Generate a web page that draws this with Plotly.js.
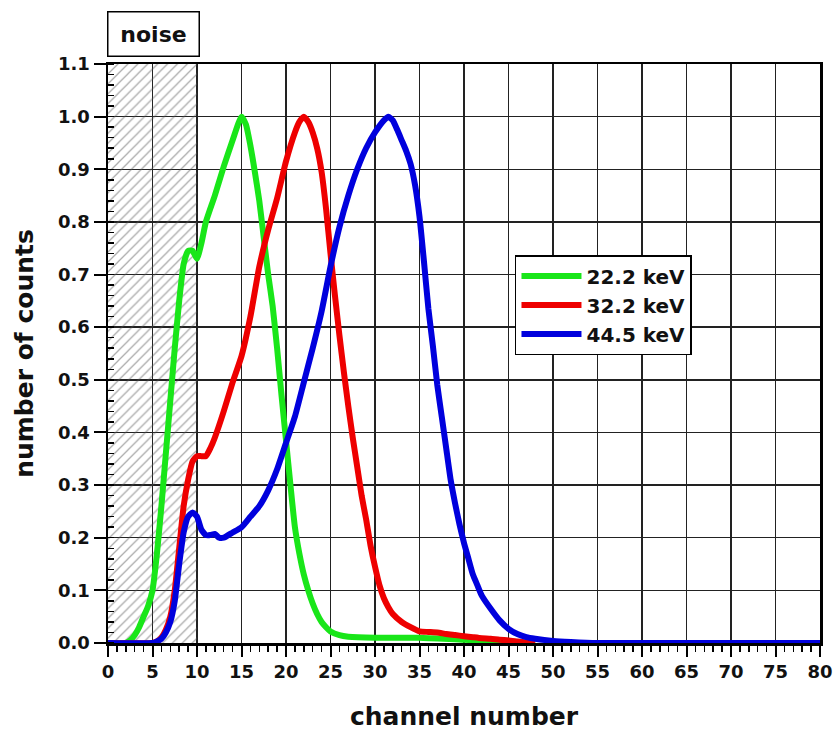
<!DOCTYPE html>
<html>
<head>
<meta charset="utf-8">
<script src="https://cdn.plot.ly/plotly-3.0.1.min.js"></script>
<style>html,body{margin:0;padding:0;background:#fff;}#chart{width:836px;height:731px;}</style>
</head>
<body>
<div id="chart"></div>
<script>
// ---- data ----
const seriesNames = ["22.2 keV", "32.2 keV", "44.5 keV"];

const greenX = [0, 2, 2.5, 3, 3.5, 4, 4.5, 5, 5.5, 6, 6.5, 7, 7.5, 8, 8.5, 9, 9.5, 10, 10.5, 11, 12, 13, 14, 15, 15.5, 16, 16.5, 17, 17.5, 18, 18.5, 19, 19.5, 20, 20.5, 21, 21.5, 22, 22.5, 23, 23.5, 24, 24.5, 25, 26, 27, 30, 35, 40, 45, 48];
const greenY = [0, 0, 0.005, 0.015, 0.03, 0.05, 0.07, 0.1, 0.17, 0.26, 0.36, 0.46, 0.56, 0.65, 0.72, 0.745, 0.745, 0.73, 0.76, 0.8, 0.85, 0.905, 0.955, 1.0, 0.985, 0.945, 0.895, 0.84, 0.77, 0.7, 0.64, 0.56, 0.47, 0.385, 0.3, 0.22, 0.17, 0.13, 0.1, 0.075, 0.055, 0.04, 0.03, 0.022, 0.015, 0.012, 0.01, 0.01, 0.006, 0.003, 0];

const redX = [0, 5, 5.5, 6, 6.5, 7, 7.5, 8, 8.5, 9, 9.5, 10, 10.5, 11, 11.5, 12, 13, 14, 15, 16, 17, 18, 19, 20, 21, 21.5, 22, 22.5, 23, 23.5, 24, 24.5, 25, 25.5, 26, 26.5, 27, 27.5, 28, 28.5, 29, 29.5, 30, 30.5, 31, 31.5, 32, 33, 34, 35, 36, 37, 38, 39, 40, 41, 42, 43, 44, 45, 46, 47, 48];
const redY = [0, 0, 0.003, 0.01, 0.025, 0.05, 0.1, 0.18, 0.26, 0.31, 0.345, 0.355, 0.355, 0.355, 0.37, 0.39, 0.44, 0.495, 0.545, 0.62, 0.715, 0.785, 0.845, 0.915, 0.97, 0.99, 1.0, 0.99, 0.97, 0.94, 0.895, 0.825, 0.74, 0.66, 0.585, 0.515, 0.45, 0.39, 0.335, 0.28, 0.235, 0.185, 0.145, 0.11, 0.085, 0.068, 0.055, 0.04, 0.03, 0.022, 0.021, 0.02, 0.017, 0.015, 0.013, 0.011, 0.009, 0.008, 0.006, 0.005, 0.003, 0.001, 0];

const blueX = [0, 5, 5.5, 6, 6.5, 7, 7.5, 8, 8.5, 9, 9.5, 10, 10.5, 11, 11.5, 12, 12.5, 13, 14, 15, 16, 17, 18, 19, 20, 21, 22, 23, 24, 25, 26, 27, 28, 29, 30, 31, 31.5, 32, 32.5, 33, 33.5, 34, 34.5, 35, 35.5, 36, 36.5, 37, 37.5, 38, 38.5, 39, 39.5, 40, 40.5, 41, 41.5, 42, 43, 44, 45, 46, 47, 48, 50, 52, 55, 80];
const blueY = [0, 0, 0.003, 0.008, 0.02, 0.04, 0.08, 0.15, 0.21, 0.24, 0.248, 0.24, 0.215, 0.205, 0.205, 0.207, 0.2, 0.2, 0.21, 0.22, 0.24, 0.26, 0.29, 0.33, 0.38, 0.43, 0.495, 0.56, 0.63, 0.715, 0.79, 0.85, 0.9, 0.94, 0.97, 0.993, 1.0, 0.993, 0.975, 0.955, 0.935, 0.91, 0.87, 0.81, 0.725, 0.635, 0.565, 0.49, 0.43, 0.37, 0.31, 0.265, 0.225, 0.19, 0.16, 0.13, 0.11, 0.09, 0.065, 0.043, 0.027, 0.017, 0.011, 0.008, 0.004, 0.002, 0, 0];

const noiseRange = [0, 10];
const noiseLabel = "noise";
const xTitle = "channel number";
const yTitle = "number of counts";

// ---- chart ----
const FONT = "DejaVu Sans, Verdana, sans-serif";
const lineW = 6;

const traces = [
  {
    type: "bar",
    x: [(noiseRange[0] + noiseRange[1]) / 2],
    y: [1.1],
    width: [noiseRange[1] - noiseRange[0]],
    marker: {
      color: "rgba(0,0,0,0)",
      line: { width: 0 },
      pattern: { shape: "/", fgcolor: "#555", bgcolor: "rgba(0,0,0,0)", size: 7, solidity: 0.18, fillmode: "overlay" }
    },
    showlegend: false,
    hoverinfo: "skip"
  },
  { type: "scatter", mode: "lines", name: seriesNames[0], x: greenX, y: greenY, line: { color: "#19e619", width: lineW, shape: "spline", smoothing: 0.5 } },
  { type: "scatter", mode: "lines", name: seriesNames[1], x: redX, y: redY, line: { color: "#ee0000", width: lineW, shape: "spline", smoothing: 0.5 } },
  { type: "scatter", mode: "lines", name: seriesNames[2], x: blueX, y: blueY, line: { color: "#0000dd", width: lineW, shape: "spline", smoothing: 0.5 } }
];

const layout = {
  width: 836,
  height: 731,
  margin: { l: 108, r: 16, t: 64, b: 88 },
  paper_bgcolor: "#fff",
  plot_bgcolor: "#fff",
  font: { family: FONT, color: "#111", weight: "bold" },
  showlegend: true,
  bargap: 0,
  xaxis: {
    range: [0, 80],
    dtick: 5,
    tick0: 0,
    showgrid: true,
    gridcolor: "#222",
    gridwidth: 1.5,
    zeroline: false,
    showline: true,
    linecolor: "#000",
    linewidth: 2.5,
    mirror: true,
    ticks: "outside",
    ticklen: 11,
    tickwidth: 2,
    tickcolor: "#000",
    tickfont: { family: FONT, size: 18, color: "#111", weight: "bold" },
    minor: { dtick: 1, ticks: "outside", ticklen: 6, tickwidth: 1.5, tickcolor: "#000", showgrid: false },
    title: { text: xTitle, font: { family: FONT, size: 25, color: "#111", weight: "bold" }, standoff: 28 },
    fixedrange: true
  },
  yaxis: {
    range: [0, 1.1],
    dtick: 0.1,
    tick0: 0,
    tickformat: ".1f",
    showgrid: true,
    gridcolor: "#222",
    gridwidth: 1.5,
    zeroline: false,
    showline: true,
    linecolor: "#000",
    linewidth: 2.5,
    mirror: true,
    ticks: "outside",
    ticklen: 12,
    tickwidth: 2,
    tickcolor: "#000",
    tickfont: { family: FONT, size: 18, color: "#111", weight: "bold" },
    minor: { dtick: 0.02, ticks: "inside", ticklen: 6, tickwidth: 1.5, tickcolor: "#000", showgrid: false },
    title: { text: yTitle, font: { family: FONT, size: 25, color: "#111", weight: "bold" }, standoff: 18 },
    fixedrange: true
  },
  legend: {
    x: 0.5716,
    y: 0.670,
    xanchor: "left",
    yanchor: "top",
    bgcolor: "#fff",
    bordercolor: "#000",
    borderwidth: 1.5,
    font: { family: FONT, size: 20, color: "#111", weight: "bold" },
    itemwidth: 60,
    tracegroupgap: 0
  },
  annotations: [
    {
      xref: "paper", yref: "paper",
      x: 0.0635, y: 1.012,
      xanchor: "center", yanchor: "bottom",
      text: noiseLabel,
      showarrow: false,
      font: { family: FONT, size: 22, color: "#111", weight: "bold" },
      bordercolor: "#000",
      borderwidth: 1.5,
      borderpad: 9,
      bgcolor: "#fff",
      width: 72
    }
  ]
};

Plotly.newPlot("chart", traces, layout, { staticPlot: true, displayModeBar: false });
</script>
</body>
</html>
